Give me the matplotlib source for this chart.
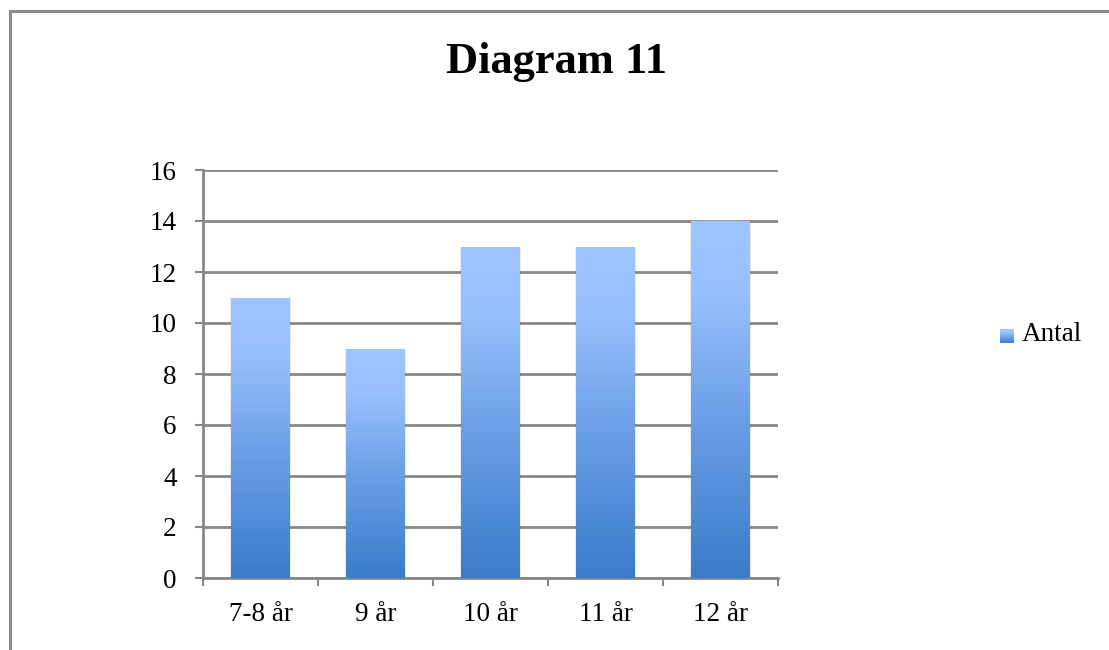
import matplotlib
matplotlib.use("Agg")
import matplotlib.pyplot as plt
import numpy as np
from matplotlib.colors import LinearSegmentedColormap
from matplotlib.patches import Rectangle
from matplotlib.legend_handler import HandlerBase

categories = ["7-8 år", "9 år", "10 år", "11 år", "12 år"]
antal = [11, 9, 13, 13, 14]
series_name = "Antal"
title = "Diagram 11"
yticks = [0, 2, 4, 6, 8, 10, 12, 14, 16]

GRID = "#878787"
FONT = ["Liberation Serif", "DejaVu Serif"]
plt.rcParams["font.family"] = FONT

## vertical fill, dark at the base and light at the top
cmap = LinearSegmentedColormap.from_list(
    "barfill",
    [(0.0, "#3a7cca"), (0.45, "#6b9fe6"), (0.8, "#98c0fd"), (1.0, "#9ec5ff")])

fig = plt.figure(figsize=(11.09, 6.5), dpi=100)
ax = fig.add_axes([203/1109, 1-578/650, 575/1109, 408/650])

x = np.arange(len(categories))
bars = ax.bar(x, antal, width=0.51, color="none", edgecolor="none", zorder=3)

grad = np.linspace(0, 1, 256).reshape(-1, 1)
for b in bars:
    x0, y0 = b.get_x(), b.get_y()
    w, h = b.get_width(), b.get_height()
    # faint shadow along the sides of each column
    ax.add_patch(Rectangle((x0 - 0.014, y0), w + 0.028, h,
                           facecolor="#000000", alpha=0.07, lw=0, zorder=2.5))
    im = ax.imshow(grad, cmap=cmap, origin="lower", aspect="auto",
                   extent=(x0, x0 + w, y0, y0 + h), zorder=3)
    im.set_clip_path(b)

ax.set_xlim(-0.5, len(categories) - 0.5)
ax.set_ylim(0, 16)
ax.set_yticks(yticks)
ax.set_yticklabels([str(v) for v in yticks])
ax.set_xticks(x)
ax.set_xticklabels(categories)
ax.set_xticks(np.arange(-0.5, len(categories)), minor=True)

ax.yaxis.grid(True, color=GRID, lw=2, zorder=1)
ax.set_axisbelow(True)
for s in ["top", "right"]:
    ax.spines[s].set_visible(False)
for s in ["left", "bottom"]:
    ax.spines[s].set_color(GRID)
    ax.spines[s].set_linewidth(2)

ax.tick_params(axis="y", length=6, width=1.5, color=GRID, pad=13, labelsize=19.5)
ax.tick_params(axis="x", which="major", length=0, pad=17, labelsize=19.5)
ax.tick_params(axis="x", which="minor", length=5.5, width=1.5, color=GRID)

fig.text(0.502, 1 - 62/650, title, ha="center", va="center",
         fontsize=32, fontweight="bold", family=FONT)


class GradientHandler(HandlerBase):
    def create_artists(self, legend, orig, xd, yd, w, h, fontsize, trans):
        n = 20
        side = min(w, h)
        out = []
        for i in range(n):
            out.append(Rectangle((xd + w - side, yd + side*i/n), side, side/n + 0.3,
                                 facecolor=cmap(i/(n-1)), lw=0, transform=trans))
        return out


proxy = Rectangle((0, 0), 1, 1)
fig.legend([proxy], [series_name], handler_map={Rectangle: GradientHandler()},
           loc="center left", bbox_to_anchor=(1000/1109, 1 - 335/650),
           frameon=False, fontsize=19.5, handlelength=0.5, handleheight=0.5,
           handletextpad=0.3, borderpad=0, borderaxespad=0)

## outer chart frame, cut off on the right and bottom
fig.add_artist(Rectangle((9.5/1109, -0.1), 1.2, 1.1 - 10.5/650,
                         transform=fig.transFigure, fill=False,
                         edgecolor="#8c8c8c", lw=2.2))

fig.savefig("out.png", dpi=100)
